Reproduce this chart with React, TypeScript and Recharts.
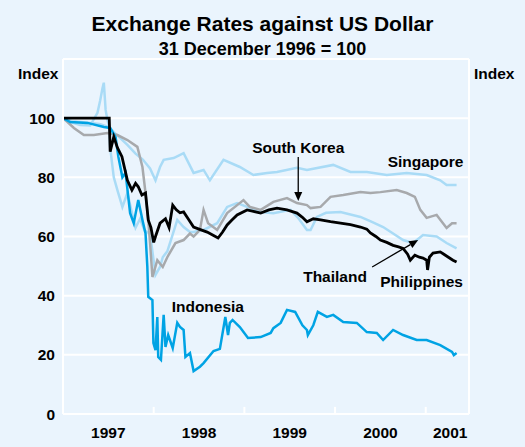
import { LineChart, Line, XAxis, YAxis, CartesianGrid, ReferenceLine, ReferenceDot } from "recharts";

// [year, index] pairs, 31 Dec 1996 = 100
const philippines: [number, number][] = [
  [1997.0, 100], [1997.51, 100], [1997.52, 88.7], [1997.56, 93.7], [1997.6, 90], [1997.65, 87],
  [1997.71, 79], [1997.76, 75.7], [1997.8, 78], [1997.83, 76.8], [1997.87, 74], [1997.91, 74.7],
  [1997.94, 65.6], [1997.97, 63], [1998.0, 58], [1998.02, 60], [1998.07, 64.5], [1998.13, 66],
  [1998.17, 63], [1998.21, 70.6], [1998.25, 69], [1998.29, 68], [1998.33, 68.3], [1998.38, 66],
  [1998.44, 63.2], [1998.5, 62.5], [1998.59, 61.5], [1998.65, 60.5], [1998.71, 59.5], [1998.76, 61.5],
  [1998.81, 63.9], [1998.86, 65.5], [1998.92, 67.3], [1999.03, 69], [1999.1, 68.5], [1999.18, 67.9],
  [1999.27, 69], [1999.36, 69.6], [1999.47, 69], [1999.58, 67.9], [1999.64, 66.5], [1999.69, 65],
  [1999.76, 66], [1999.84, 65.6], [1999.95, 65], [2000.06, 64.5], [2000.17, 64], [2000.28, 63.2],
  [2000.35, 62.5], [2000.39, 61.2], [2000.45, 60], [2000.5, 58.8], [2000.57, 58], [2000.64, 57],
  [2000.7, 56.5], [2000.75, 56], [2000.8, 54], [2000.83, 52], [2000.88, 53.7], [2000.93, 53],
  [2000.97, 52.7], [2001.01, 52], [2001.02, 48.7], [2001.04, 53], [2001.08, 54.4], [2001.16, 54.8],
  [2001.2, 54], [2001.25, 53], [2001.3, 52], [2001.34, 51.4],
];

const thailand: [number, number][] = [
  [1997.0, 100], [1997.1, 98.5], [1997.19, 97.7], [1997.3, 97.5], [1997.38, 101.8], [1997.41, 106],
  [1997.435, 110], [1997.45, 112], [1997.47, 102.8], [1997.49, 99.4], [1997.51, 97], [1997.52, 90],
  [1997.56, 80], [1997.6, 75.7], [1997.655, 70], [1997.71, 74.7], [1997.76, 68], [1997.8, 63],
  [1997.85, 66], [1997.9, 62], [1997.96, 61], [1998.02, 47], [1998.07, 49.7], [1998.1, 53],
  [1998.15, 55], [1998.19, 58.8], [1998.26, 65.6], [1998.33, 63.2], [1998.4, 61.5], [1998.44, 61.5],
  [1998.51, 62], [1998.55, 62.2], [1998.7, 64.5], [1998.81, 70], [1998.92, 71.3], [1999.03, 70],
  [1999.18, 68.3], [1999.32, 67.9], [1999.51, 69], [1999.6, 66], [1999.69, 62.2], [1999.73, 62.2],
  [1999.8, 66.6], [1999.9, 68], [2000.06, 68.3], [2000.28, 66.6], [2000.4, 65], [2000.53, 63.2],
  [2000.64, 61], [2000.75, 58.8], [2000.86, 57.8], [2000.97, 60.5], [2001.12, 60], [2001.23, 57.8],
  [2001.34, 56],
];

const southKorea: [number, number][] = [
  [1997.0, 100], [1997.05, 98.7], [1997.12, 96.7], [1997.23, 94.3], [1997.34, 94.3], [1997.49, 95],
  [1997.6, 94.3], [1997.71, 92.6], [1997.82, 90.3], [1997.876, 83.5], [1997.91, 74.7], [1997.94, 65.6],
  [1997.96, 57.8], [1997.986, 46.3], [1998.04, 52], [1998.1, 49.7], [1998.15, 53], [1998.24, 57.8],
  [1998.33, 58.8], [1998.4, 61], [1998.44, 60], [1998.51, 62.2], [1998.55, 69], [1998.6, 64.5],
  [1998.7, 62.2], [1998.81, 67.9], [1998.99, 72.3], [1999.06, 70], [1999.18, 69], [1999.32, 71.7],
  [1999.47, 73], [1999.58, 71.3], [1999.69, 70.6], [1999.73, 69.6], [1999.84, 70], [1999.95, 73.4],
  [2000.09, 74], [2000.28, 75], [2000.39, 74.7], [2000.5, 75], [2000.68, 75.7], [2000.79, 74.7],
  [2000.88, 73.4], [2000.94, 69], [2001.01, 66.3], [2001.12, 67.3], [2001.23, 62.9], [2001.29, 64.5],
  [2001.34, 64.5],
];

const singapore: [number, number][] = [
  [1997.0, 100], [1997.1, 99], [1997.25, 98.5], [1997.4, 98], [1997.51, 97], [1997.56, 95.3],
  [1997.64, 93], [1997.71, 91], [1997.8, 88], [1997.88, 86], [1997.96, 83], [1998.02, 79],
  [1998.07, 83.5], [1998.11, 85.9], [1998.22, 86.5], [1998.33, 88.2], [1998.44, 81.5], [1998.55, 82.5],
  [1998.62, 79], [1998.77, 85.9], [1998.95, 83.5], [1999.1, 80.8], [1999.25, 81.5], [1999.36, 81.8],
  [1999.58, 83.2], [1999.69, 82.5], [1999.98, 84.2], [2000.17, 81.8], [2000.35, 81.8], [2000.57, 80.8],
  [2000.79, 81.5], [2001.01, 80.8], [2001.16, 79], [2001.23, 77.4], [2001.34, 77.4],
];

const indonesia: [number, number][] = [
  [1997.0, 100], [1997.08, 98.7], [1997.27, 98.4], [1997.45, 97], [1997.52, 96.7], [1997.58, 93.6],
  [1997.61, 87], [1997.655, 80], [1997.69, 81.5], [1997.74, 67.9], [1997.78, 64.5], [1997.83, 72.3],
  [1997.876, 65.6], [1997.91, 61], [1997.93, 49.7], [1997.94, 39.6], [1997.986, 38.5], [1997.997, 24],
  [1998.02, 21.6], [1998.04, 32.8], [1998.05, 19.3], [1998.08, 18.3], [1998.11, 33.5], [1998.13, 22.7],
  [1998.16, 26.7], [1998.21, 22.3], [1998.26, 30.8], [1998.29, 29.4], [1998.33, 28.4], [1998.35, 19.3],
  [1998.4, 20.6], [1998.44, 14.5], [1998.51, 16], [1998.55, 17.2], [1998.66, 21.3], [1998.73, 22],
  [1998.79, 32.8], [1998.82, 26.7], [1998.84, 30.8], [1998.87, 31.8], [1998.95, 29.4], [1999.04, 25.7],
  [1999.18, 26], [1999.29, 27.4], [1999.32, 29], [1999.4, 30.8], [1999.47, 35.2], [1999.56, 34.5],
  [1999.64, 30], [1999.69, 28.4], [1999.7, 26.7], [1999.76, 30], [1999.81, 34.5], [1999.91, 32.8],
  [1999.98, 33.5], [2000.09, 31.1], [2000.24, 30.8], [2000.35, 27.7], [2000.46, 27.4], [2000.53, 25],
  [2000.64, 28.4], [2000.75, 26.7], [2000.9, 25], [2001.01, 25], [2001.16, 23.3], [2001.29, 21],
  [2001.31, 19.9], [2001.34, 20.6],
];

const yTicks = [0, 20, 40, 60, 80, 100];
const yearTicks = [1998, 1999, 2000, 2001];
const yearLabelTicks = [1997.5, 1998.5, 1999.5, 2000.5, 2001.27];

const BG = "#EAF4FD";
const FONT = "'Liberation Sans', Arial, Helvetica, sans-serif";
const LIGHT_BLUE = "#A9DBF6";

const toRows = (s: [number, number][]) => s.map(([t, v]) => ({ t, v }));

const Arrow = (props: any) => {
  const { x1, y1, x2, y2 } = props;
  const a = Math.atan2(y2 - y1, x2 - x1);
  const len = 9;
  const hw = 4;
  const bx = x2 - len * Math.cos(a);
  const by = y2 - len * Math.sin(a);
  const px = -Math.sin(a) * hw;
  const py = Math.cos(a) * hw;
  return (
    <g>
      <line x1={x1} y1={y1} x2={bx} y2={by} stroke="#000" strokeWidth={1.3} />
      <polygon points={`${x2},${y2} ${bx + px},${by + py} ${bx - px},${by - py}`} fill="#000" />
    </g>
  );
};

const note = (text: string) => (props: any) => (
  <text x={props.cx} y={props.cy} textAnchor="middle" fontFamily={FONT} fontWeight="bold" fontSize={15.5} fill="#000">
    {text}
  </text>
);

export default function App() {
  const tickStyle = { fontFamily: FONT, fontWeight: "bold", fontSize: 15.5, fill: "#000" };
  return (
    <div style={{ position: "absolute", left: 0, top: 0, width: 525, height: 447, background: BG, fontFamily: FONT }}>
      <div style={{ position: "absolute", top: 13, left: 0, width: 525, textAlign: "center", fontSize: 21, lineHeight: "21px", fontWeight: "bold" }}>
        Exchange Rates against US Dollar
      </div>
      <div style={{ position: "absolute", top: 40, left: 0, width: 525, textAlign: "center", fontSize: 18, lineHeight: "18px", fontWeight: "bold" }}>
        31 December 1996 = 100
      </div>
      <div style={{ position: "absolute", top: 66, left: 18, fontSize: 15.5, lineHeight: "15.5px", fontWeight: "bold" }}>Index</div>
      <div style={{ position: "absolute", top: 66, left: 474, fontSize: 15.5, lineHeight: "15.5px", fontWeight: "bold" }}>Index</div>
      <div style={{ position: "absolute", top: 0, left: 0 }}>
        <LineChart width={525} height={447} margin={{ top: 59, right: 0, bottom: 0, left: 0 }}>
          <CartesianGrid vertical={false} stroke="#fff" strokeWidth={2} />
          <XAxis
            dataKey="t"
            type="number"
            domain={[1997, 2001.477]}
            ticks={yearLabelTicks}
            tickFormatter={(v: number) => String(Math.floor(v))}
            allowDataOverflow
            height={33}
            tickLine={false}
            tickSize={6}
            tickMargin={7}
            axisLine={{ stroke: "#fff", strokeWidth: 2 }}
            tick={tickStyle}
          />
          <YAxis
            domain={[0, 120]}
            ticks={yTicks}
            width={63}
            tickLine={false}
            axisLine={{ stroke: "#fff", strokeWidth: 2 }}
            tick={tickStyle}
          />
          <YAxis
            yAxisId="right"
            orientation="right"
            domain={[0, 120]}
            ticks={yTicks}
            width={56}
            tickLine={false}
            axisLine={{ stroke: "#fff", strokeWidth: 2 }}
            tick={tickStyle}
          />
          <ReferenceLine y={120} stroke="#fff" strokeWidth={2} />
          {yearTicks.map((yr) => (
            <ReferenceLine key={yr} segment={[{ x: yr, y: 0 }, { x: yr, y: 2.4 }]} stroke="#fff" strokeWidth={2} />
          ))}
          <Line data={toRows(singapore)} dataKey="v" stroke={LIGHT_BLUE} strokeWidth={2.5} dot={false} isAnimationActive={false} />
          <Line data={toRows(thailand)} dataKey="v" stroke={LIGHT_BLUE} strokeWidth={2.5} dot={false} isAnimationActive={false} />
          <Line data={toRows(southKorea)} dataKey="v" stroke="#A7A9AC" strokeWidth={2.5} dot={false} isAnimationActive={false} />
          <Line data={toRows(indonesia)} dataKey="v" stroke="#00A3E4" strokeWidth={2.5} dot={false} isAnimationActive={false} />
          <Line data={toRows(philippines)} dataKey="v" stroke="#000" strokeWidth={2.8} dot={false} isAnimationActive={false} />
          <ReferenceLine segment={[{ x: 1999.594, y: 86.9 }, { x: 1999.594, y: 72 }]} shape={Arrow} />
          <ReferenceLine segment={[{ x: 2000.409, y: 49.7 }, { x: 2000.916, y: 58.8 }]} shape={Arrow} />
          <ReferenceDot x={1999.594} y={88.2} r={1} shape={note("South Korea")} />
          <ReferenceDot x={2000.998} y={83.5} r={1} shape={note("Singapore")} />
          <ReferenceDot x={2000.0} y={44.6} r={1} shape={note("Thailand")} />
          <ReferenceDot x={2000.954} y={42.9} r={1} shape={note("Philippines")} />
          <ReferenceDot x={1998.597} y={34.5} r={1} shape={note("Indonesia")} />
        </LineChart>
      </div>
    </div>
  );
}
